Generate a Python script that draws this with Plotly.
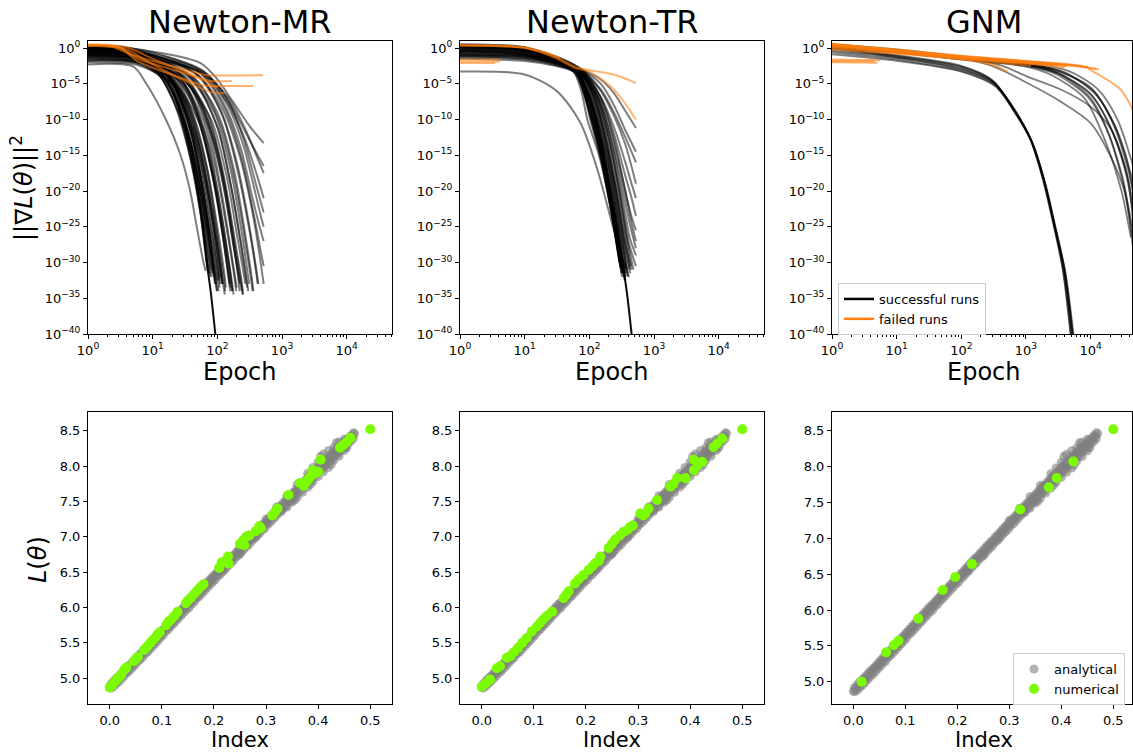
import plotly.graph_objects as go

W, H = 1133, 753
FONT = "DejaVu Sans"
ORANGE = "#ff7f0e"
GREEN = "#7cfc00"

titles = ["Newton-MR", "Newton-TR", "GNM"]

# ---------------------------------------------------------------
# Convergence histories, each run as (epoch, log10 ||grad L||^2)
# ---------------------------------------------------------------
mr_ok = [
    [(1, -2.3), (5, -2.6), (8, -5), (16, -10), (27, -15), (38, -20), (48, -25), (61, -30), (66, -31.2)],
    [(1, -0.5), (5, -1.0), (10, -2.5), (20, -7), (35, -14), (50, -21), (65, -28), (72, -31.5)],
    [(1, 0.0), (5, -0.6), (12, -3), (25, -8), (40, -15), (55, -22), (70, -29), (78, -32)],
    [(1, -1.2), (6, -1.8), (12, -3.5), (25, -9), (40, -16), (55, -23), (68, -30), (74, -31.5)],
    [(1, 0.4), (4, 0.0), (10, -1.8), (20, -5), (40, -12), (60, -20), (80, -28), (90, -32)],
    [(1, -0.8), (6, -1.5), (15, -4), (30, -10), (50, -18), (70, -26), (90, -32), (95, -33)],
    [(1, -1.8), (6, -2.2), (15, -4.5), (30, -10), (50, -17), (70, -24), (90, -30), (100, -32.5)],
    [(1, 0.2), (5, -0.5), (15, -3), (30, -7), (50, -13), (75, -21), (100, -29), (110, -32)],
    [(1, -0.3), (6, -1.0), (15, -3.2), (35, -8), (60, -15), (90, -24), (115, -31), (120, -33)],
    [(1, -1.0), (6, -1.6), (20, -4), (40, -9), (70, -17), (100, -25), (130, -32), (135, -33.5)],
    [(1, 0.1), (5, -0.6), (20, -3.5), (45, -8.5), (80, -17), (120, -26), (150, -32), (155, -33)],
    [(1, -1.5), (6, -2.0), (20, -4.5), (50, -10), (90, -19), (130, -27), (160, -32), (170, -34)],
    [(1, -0.6), (6, -1.2), (25, -4), (60, -10), (100, -18), (150, -27), (190, -33), (195, -34)],
    [(1, 0.3), (4, -0.1), (25, -3.5), (60, -8.5), (110, -17), (160, -25), (210, -32), (220, -34)],
    [(1, -0.2), (6, -0.9), (30, -4), (70, -9), (120, -17), (180, -26), (240, -33), (250, -34.5)],
    [(1, -1.3), (8, -2.0), (30, -4.5), (80, -10), (140, -18), (200, -26), (260, -32), (270, -33)],
    [(1, 0.0), (6, -0.7), (35, -3.8), (90, -9), (160, -17), (240, -26), (300, -32), (310, -33)],
    [(1, -0.9), (8, -1.6), (40, -4), (100, -9), (180, -17), (280, -27), (350, -33), (360, -34)],
    [(1, 0.2), (6, -0.5), (45, -3.5), (110, -8.5), (200, -16), (300, -24), (400, -31), (430, -33)],
    [(1, -0.4), (8, -1.2), (50, -3.8), (120, -8.5), (220, -15), (350, -23), (450, -29), (520, -33)],
    [(1, -0.1), (8, -0.8), (55, -3.5), (130, -8), (230, -14), (350, -21), (450, -25), (520, -27)],
    [(1, 0.1), (8, -0.6), (55, -3.0), (140, -7), (250, -12.5), (380, -18.5), (520, -23)],
    [(1, -0.7), (8, -1.3), (60, -3.5), (150, -7), (260, -11), (400, -15), (520, -17.5)],
    [(1, 0.3), (6, -0.2), (55, -2.1), (100, -4.4), (180, -7.7), (320, -11), (520, -13.3)],
    [(1, -0.3), (8, -1.0), (60, -3.2), (150, -7.5), (280, -12), (420, -15), (520, -16.5)],
    [(1, -1.6), (7, -2.2), (25, -6), (50, -14), (75, -22), (100, -30), (110, -33)],
    [(1, 0.2), (5, -0.5), (18, -4), (40, -12), (60, -20), (80, -27), (100, -33), (105, -34)],
    [(1, -0.4), (6, -1.0), (22, -5), (50, -13), (80, -22), (110, -30), (130, -34.5)],
    [(1, -2.0), (6, -2.4), (20, -5), (40, -11), (60, -17), (80, -23), (100, -28), (120, -33)],
    [(1, 0.1), (5, -0.6), (30, -5), (70, -13), (110, -22), (150, -30), (170, -34)],
    [(1, -0.5), (7, -1.2), (40, -5.5), (90, -13), (140, -21), (190, -29), (220, -33)],
    [(1, 0.0), (6, -0.6), (15, -2.8), (30, -8), (45, -14), (60, -20), (75, -26), (88, -31.5)],
    [(1, -1.0), (5, -1.4), (12, -3.5), (25, -9), (40, -16), (55, -23), (65, -28), (75, -31.5)],
    [(1, 0.4), (5, -0.1), (12, -2.2), (24, -7), (40, -14), (55, -21), (70, -28), (80, -31)],
    [(1, -0.2), (6, -0.8), (35, -5), (80, -12), (130, -20), (180, -28), (230, -33), (240, -34)],
    [(1, -1.4), (6, -1.9), (18, -5), (35, -12), (55, -20), (75, -27), (95, -33), (100, -34)],
    [(1, -0.8), (6, -1.3), (28, -5), (60, -12), (95, -20), (130, -28), (160, -33.5)],
    [(1, 0.3), (5, -0.3), (40, -4.5), (100, -11), (160, -19), (230, -27), (290, -33), (300, -34)],
    [(1, -0.2), (5, -0.7), (12, -2.8), (25, -7.5), (40, -14), (55, -21), (70, -27.5), (82, -32)],
    [(1, 0.3), (5, -0.2), (14, -2.8), (28, -8), (45, -15), (60, -21.5), (78, -28.5), (92, -33)],
    [(1, -0.6), (6, -1.1), (16, -3.5), (32, -9), (50, -16), (70, -24), (88, -30.5), (98, -34)],
    [(1, -1.1), (6, -1.6), (18, -4.2), (36, -10), (55, -17), (78, -25), (100, -31), (108, -33.5)],
    [(1, 0.0), (5, -0.6), (18, -3.5), (38, -9), (60, -16), (85, -24), (110, -31), (118, -33)],
    [(1, -0.3), (6, -0.9), (22, -4), (45, -10), (70, -17), (100, -26), (125, -32), (132, -34)],
    [(1, 0.2), (5, -0.4), (25, -4), (55, -10.5), (90, -19), (125, -27), (150, -32.5), (158, -34)],
    [(1, -0.7), (6, -1.2), (28, -4.5), (60, -11), (100, -20), (140, -28), (170, -33), (178, -34.5)],
    [(1, 0.1), (6, -0.5), (30, -4.2), (70, -11), (115, -20), (160, -28), (195, -33), (200, -33.5)],
    [(1, -0.4), (7, -1.0), (35, -4.5), (80, -11), (130, -19), (190, -28), (235, -33), (245, -34.5)],
    [(1, 0.2), (6, -0.4), (40, -4.2), (95, -10.5), (160, -19), (230, -27.5), (280, -32.5), (290, -33.5)],
    [(1, -0.6), (8, -1.2), (45, -4.3), (110, -10.5), (190, -19), (280, -28), (340, -33), (350, -34)],
    [(1, 0.0), (7, -0.6), (50, -3.8), (120, -9.5), (210, -17.5), (320, -26), (400, -31.5), (420, -33)],
    [(1, -0.2), (8, -0.8), (55, -3.6), (130, -8.5), (230, -15), (360, -23), (470, -28.5), (520, -30.5)],
    [(1, 0.2), (8, -0.4), (55, -3.2), (140, -7.8), (250, -13.5), (380, -20), (470, -23.5), (520, -25)],
    [(1, -0.9), (8, -1.4), (55, -3.4), (140, -7.5), (260, -12.5), (400, -17.5), (520, -21)],
    [(1, -1.7), (6, -2.1), (16, -4.5), (30, -10), (45, -16), (60, -22), (75, -28), (85, -31.5)],
    [(1, -1.2), (6, -1.6), (20, -4.5), (40, -11), (60, -18), (80, -25), (100, -31), (106, -32.5)],
]
mr_best = [(1, 0.3), (4, -0.2), (10, -2), (20, -6), (35, -13), (50, -20), (60, -25), (70, -30.5),
           (80, -34.5), (93, -40), (96, -41.2)]
mr_fail = [
    [(1, 0.45), (2, 0.4), (5, -1.0), (17, -2.4), (54, -3.6), (70, -3.8), (510, -3.8)],
    [(1, 0.4), (3, 0.2), (6, -1.5), (20, -3.0), (60, -4.3), (75, -4.6), (168, -4.6)],
    [(1, 0.35), (3, 0.1), (6, -1.9), (24, -4.0), (60, -5.2), (80, -5.3), (356, -5.3)],
    [(1, 0.3), (4, -0.2), (8, -1.8), (30, -4.5), (70, -6.0), (90, -6.3), (130, -6.3)],
    [(1, 0.45), (4, 0.1), (10, -1.5), (30, -3.2), (60, -4.5), (100, -5.6)],
]

tr_ok = [
    [(1, -3.3), (10, -3.7), (32, -6.1), (73, -10.5), (133, -17), (240, -25.5), (345, -30.1), (365, -30.8)],
    [(1, 0.3), (10, -0.2), (30, -1.7), (57, -3.3), (75, -6), (93, -10), (141, -15), (190, -20), (240, -25), (290, -29.7), (300, -30.5)],
    [(1, -0.5), (10, -0.9), (30, -2), (60, -3.5), (80, -6), (100, -9.5), (150, -15.5), (200, -21), (250, -26), (310, -31)],
    [(1, 0.5), (10, 0.1), (30, -1.5), (60, -3.1), (85, -6.5), (110, -10), (160, -16), (210, -22), (260, -27), (320, -32)],
    [(1, -1.0), (10, -1.3), (30, -2.3), (60, -3.4), (90, -6.5), (120, -10.5), (170, -16), (230, -22.5), (290, -28), (330, -31.5)],
    [(1, -0.2), (10, -0.6), (30, -1.8), (65, -3.3), (95, -6.5), (130, -11), (180, -16.5), (240, -22.5), (300, -28), (350, -32.5)],
    [(1, 0.1), (10, -0.3), (30, -1.6), (65, -3.2), (100, -6.5), (140, -11), (200, -17), (270, -24), (330, -29.5), (360, -31.5)],
    [(1, -1.5), (10, -1.8), (30, -2.5), (65, -3.5), (100, -6.5), (150, -11.5), (220, -18), (300, -25.5), (380, -31)],
    [(1, 0.4), (10, 0.0), (30, -1.4), (70, -3.2), (110, -6.5), (160, -11.5), (230, -18), (310, -25), (390, -31.5)],
    [(1, -0.7), (10, -1.0), (30, -2), (70, -3.4), (115, -6.5), (170, -11.5), (250, -18.5), (330, -25), (420, -31)],
    [(1, 0.2), (10, -0.2), (30, -1.5), (70, -3.1), (120, -6.5), (180, -11.5), (260, -18), (360, -26), (440, -30.5)],
    [(1, -0.3), (10, -0.7), (35, -2), (75, -3.4), (130, -7), (200, -12.5), (290, -19.5), (400, -27), (525, -30.5)],
    [(1, 0.3), (10, -0.1), (35, -1.6), (75, -3.2), (130, -6.5), (200, -11.5), (300, -18), (420, -24.5), (525, -28)],
    [(1, -1.2), (10, -1.5), (35, -2.3), (75, -3.5), (140, -7), (220, -12), (320, -18), (430, -23), (525, -25.5)],
    [(1, 0.0), (10, -0.4), (35, -1.7), (80, -3.3), (150, -7), (240, -12), (350, -17.5), (450, -21), (525, -23.5)],
    [(1, -0.4), (10, -0.8), (35, -2), (80, -3.4), (150, -6.8), (250, -11.5), (360, -16), (450, -19), (525, -21)],
    [(1, 0.4), (10, 0.0), (35, -1.4), (80, -3.2), (150, -6), (240, -9.5), (360, -13.5), (525, -19)],
    [(1, -0.8), (10, -1.1), (35, -2.1), (80, -3.4), (150, -5.8), (240, -9), (360, -12.5), (525, -16)],
    [(1, 0.1), (10, -0.3), (35, -1.5), (85, -3.3), (150, -5), (240, -8), (360, -11.5), (525, -14.5)],
    [(1, -0.1), (10, -0.5), (35, -1.7), (90, -3.3), (150, -4.4), (240, -6.3), (360, -8.8), (525, -11.2)],
    [(1, 0.5), (10, 0.1), (30, -1.3), (60, -3), (80, -5.5), (100, -9), (140, -14), (180, -19), (230, -24), (280, -29), (295, -30)],
    [(1, -0.6), (10, -1.0), (30, -2), (60, -3.3), (90, -7.5), (120, -11), (170, -17), (220, -22.5), (270, -27.5), (320, -31.5)],
    [(1, 0.2), (10, -0.2), (30, -1.5), (60, -3.1), (95, -7.5), (130, -12), (180, -17.5), (240, -23.5), (300, -29), (340, -32)],
    [(1, -1.3), (10, -1.6), (30, -2.4), (65, -3.4), (105, -8), (145, -13), (200, -19), (260, -25), (320, -30), (360, -32.5)],
    [(1, 0.3), (10, -0.1), (30, -1.5), (65, -3.2), (110, -8), (160, -14), (220, -20.5), (290, -27), (350, -31.5)],
    [(1, -0.9), (10, -1.2), (35, -2.2), (75, -3.5), (120, -7), (180, -13), (260, -20), (350, -27), (450, -31)],
    [(1, 0.1), (10, -0.3), (30, -1.6), (60, -3.2), (85, -6.5), (110, -10.5), (155, -15.5), (205, -21), (255, -26), (305, -30.5)],
    [(1, -0.4), (10, -0.8), (30, -1.9), (62, -3.3), (92, -7), (120, -11), (165, -16.5), (215, -22), (265, -27), (315, -31.5)],
    [(1, 0.3), (10, -0.1), (30, -1.5), (63, -3.2), (95, -7), (125, -11), (175, -16.5), (230, -22.5), (285, -28), (330, -31)],
    [(1, -0.9), (10, -1.2), (30, -2.2), (65, -3.4), (100, -7), (135, -11.5), (185, -17), (245, -23), (300, -28), (345, -31.5)],
    [(1, 0.4), (10, 0.0), (30, -1.4), (66, -3.1), (105, -7), (145, -11.5), (200, -17.5), (265, -24), (325, -29.5), (370, -32)],
    [(1, -0.2), (10, -0.6), (32, -1.8), (68, -3.3), (110, -7), (155, -12), (215, -18), (285, -25), (350, -30), (400, -32)],
    [(1, 0.2), (10, -0.2), (32, -1.5), (70, -3.2), (115, -7), (165, -12), (230, -18.5), (305, -25.5), (380, -31), (410, -32)],
    [(1, -0.5), (10, -0.9), (33, -2), (72, -3.4), (125, -7.3), (185, -13), (260, -20), (350, -27.5), (430, -31.5)],
    [(1, 0.0), (10, -0.4), (34, -1.7), (75, -3.3), (135, -7.2), (205, -13), (290, -20), (390, -27), (480, -31)],
    [(1, -1.1), (10, -1.4), (35, -2.3), (78, -3.5), (145, -7.5), (225, -13.5), (320, -20.5), (420, -26.5), (525, -29)],
    [(1, 0.3), (10, -0.1), (36, -1.5), (80, -3.2), (155, -7.3), (245, -13), (350, -19.5), (450, -24.5), (525, -27)],
]
tr_best = [(1, 0.2), (10, -0.3), (30, -1.6), (60, -3.2), (100, -7), (160, -14), (220, -21), (280, -27),
           (325, -30), (390, -35), (450, -40), (470, -41.5)]
tr_fail = [
    [(1, 0.45), (10, 0.1), (30, -1.2), (60, -2.6), (100, -3.1), (240, -3.7), (525, -4.9)],
    [(1, 0.3), (10, 0.0), (30, -1.4), (60, -2.8), (100, -3.3), (240, -5.8), (525, -10)],
    [(1, -1.9), (4.2, -1.9)],
    [(1, -1.6), (4, -1.65)],
    [(1, -2.1), (3.5, -2.1)],
    [(1, 0.4), (10, 0.05), (20, -0.6), (35, -1.4)],
]

gnm_ok = [
    [(1, 0.2), (10, -1.1), (100, -2.6), (300, -4.5), (600, -8), (1150, -12.5), (1800, -18), (2600, -24), (3750, -31), (5000, -40.5)],
    [(1, -0.2), (10, -1.3), (100, -2.9), (320, -4.9), (650, -8.6), (1200, -12.9), (1900, -18.5), (2700, -24.5), (3900, -31), (5250, -40.5)],
    [(1, -0.6), (10, -1.6), (100, -3.2), (330, -5.2), (680, -9), (1250, -13.2), (1950, -18.8), (2800, -24.8), (4000, -31.2), (5400, -40.5)],
    [(1, 0.0), (10, -1.2), (100, -2.7), (310, -4.7), (620, -8.3), (1180, -12.8), (1850, -18.2), (2650, -24.2), (3820, -31), (5150, -40.5)],
    [(1, -0.9), (10, -1.8), (100, -3.3), (340, -5.4), (700, -9.3), (1300, -13.6), (2000, -19), (2850, -25), (4100, -31.5), (5500, -40.5)],
    [(1, 0.1), (10, -1.0), (100, -2.5), (290, -4.4), (580, -7.8), (1100, -12.2), (1750, -17.8), (2550, -24), (3700, -31), (4950, -40.5)],
    [(1, -0.4), (10, -1.4), (100, -3.0), (325, -5.0), (660, -8.8), (1220, -13), (1920, -18.6), (2750, -24.6), (3950, -31.1), (5300, -40.5)],
    [(1, 0.3), (10, -0.5), (100, -1.5), (320, -2.6), (1050, -4.9), (3450, -7.5), (10000, -10.5), (20500, -15.2), (33000, -19.9), (42000, -25.5), (44500, -27.6)],
    [(1, 0.4), (10, -0.4), (100, -1.4), (400, -2.4), (1050, -4), (3460, -5.8), (10000, -8.2), (20800, -11.4), (37000, -18), (44500, -23.6)],
    [(1, 0.5), (10, -0.3), (100, -1.3), (1000, -2.2), (3000, -3.2), (10000, -5.5), (20000, -9.5), (35000, -15), (47000, -21)],
    [(1, 0.2), (10, -0.5), (100, -1.5), (1000, -2.4), (3000, -3.5), (10000, -6.5), (20000, -11), (35000, -17.5), (47000, -24)],
    [(1, 0.4), (10, -0.3), (100, -1.3), (1000, -2.2), (3500, -3.3), (11000, -6), (22000, -10.5), (38000, -17), (50000, -22)],
    [(1, 0.1), (10, -0.6), (100, -1.6), (1000, -2.5), (2800, -3.6), (9000, -6.8), (18000, -11.5), (32000, -18.5), (43000, -25.5), (45000, -26.5)],
    [(1, 0.3), (10, -0.4), (100, -1.4), (1000, -2.3), (4000, -3.4), (12000, -6.5), (24000, -11), (40000, -17), (50000, -20)],
    [(1, 0.0), (10, -0.6), (100, -1.6), (1000, -2.6), (2500, -3.8), (8000, -7), (16000, -12.5), (30000, -20), (40000, -25.5), (42000, -26.5)],
    [(1, 0.5), (10, -0.2), (100, -1.2), (1000, -2.1), (4500, -3.2), (13000, -5.8), (26000, -10), (42000, -15.5), (50000, -18)],
    [(1, 0.2), (10, -0.5), (100, -1.5), (1000, -2.4), (3200, -3.6), (10000, -7), (19000, -12), (33000, -19.5), (44000, -25)],
    [(1, 0.3), (10, -0.4), (100, -1.4), (1000, -2.3), (3000, -3.4), (9500, -6.2), (19000, -10.5), (34000, -16.5), (47000, -22.5)],
]
gnm_fail = [
    [(1, 0.6), (10, -0.3), (100, -1.2), (1000, -1.9), (5000, -2.4), (13500, -3.0)],
    [(1, 0.4), (10, -0.4), (100, -1.3), (1000, -2.0), (4400, -2.5)],
    [(1, 0.2), (10, -0.5), (100, -1.4), (1000, -2.1), (3000, -2.5)],
    [(1, 0.5), (10, -0.2), (100, -1.1), (1000, -1.8), (8000, -2.6), (11000, -3.3), (29000, -5.8), (47000, -9.1), (52000, -11)],
    [(1, 0.0), (10, -0.7), (100, -1.6), (300, -2.3), (520, -3.3)],
    [(1, -1.6), (5.6, -1.7)],
    [(1, -2.0), (5, -2.05)],
    [(1, 0.3), (10, -0.3), (100, -1.2), (1000, -1.9), (2500, -2.2)],
    [(1, -0.2), (10, -0.8), (100, -1.5), (1500, -2.3), (4000, -2.7)],
    [(1, 0.55), (10, -0.25), (100, -1.15), (1000, -1.85), (6000, -2.5), (12000, -2.9)],
    [(1, 0.45), (10, -0.35), (100, -1.25), (1000, -1.95), (3500, -2.35)],
    [(1, 0.35), (10, -0.45), (100, -1.35), (800, -2.0), (2000, -2.3)],
    [(1, 0.1), (10, -0.6), (100, -1.5), (600, -2.2), (1200, -2.5)],
    [(1, 0.5), (10, -0.3), (100, -1.2), (1000, -1.95), (7000, -2.6), (9000, -2.7)],
    [(1, -1.8), (4.5, -1.85)],
]

# ---------------------------------------------------------------
# Final loss against index: analytical sweep and numerical solutions
# ---------------------------------------------------------------
analytical_idx = [
    0.000, 0.005, 0.010, 0.015, 0.020, 0.025, 0.030, 0.035, 0.040, 0.045,
    0.050, 0.055, 0.060, 0.065, 0.070, 0.075, 0.080, 0.085, 0.090, 0.095,
    0.100, 0.105, 0.110, 0.115, 0.120, 0.125, 0.130, 0.135, 0.140, 0.145,
    0.150, 0.155, 0.160, 0.165, 0.170, 0.175, 0.180, 0.185, 0.190, 0.195,
    0.200, 0.205, 0.210, 0.215, 0.220, 0.225, 0.230, 0.235, 0.240, 0.245,
    0.250, 0.255, 0.260, 0.265, 0.270, 0.275, 0.280, 0.285, 0.290, 0.295,
    0.300, 0.305, 0.310, 0.315, 0.320, 0.325, 0.330, 0.335, 0.340, 0.345,
    0.350, 0.355, 0.360, 0.365, 0.370, 0.375, 0.380, 0.385, 0.390, 0.395,
    0.400, 0.405, 0.410, 0.415, 0.420, 0.425, 0.430, 0.435, 0.440, 0.445,
    0.450, 0.455, 0.460, 0.465, 0.470,
    0.300, 0.320, 0.340, 0.360, 0.380, 0.390, 0.400, 0.405, 0.410, 0.420,
    0.430, 0.435, 0.440, 0.450,
    0.350, 0.355, 0.360, 0.370, 0.380, 0.385, 0.390, 0.400, 0.410, 0.420,
    0.425, 0.430, 0.440, 0.450, 0.455, 0.220, 0.250, 0.280, 0.330, 0.340,
]
analytical_L = [
    4.87, 4.91, 4.95, 4.98, 5.03, 5.06, 5.10, 5.13, 5.18, 5.21,
    5.25, 5.29, 5.33, 5.36, 5.41, 5.44, 5.48, 5.52, 5.56, 5.60,
    5.64, 5.69, 5.72, 5.76, 5.80, 5.84, 5.88, 5.92, 5.96, 6.00,
    6.04, 6.07, 6.12, 6.15, 6.20, 6.23, 6.27, 6.31, 6.35, 6.39,
    6.43, 6.46, 6.51, 6.54, 6.58, 6.62, 6.66, 6.70, 6.73, 6.78,
    6.81, 6.85, 6.89, 6.93, 6.96, 7.01, 7.04, 7.08, 7.12, 7.16,
    7.19, 7.24, 7.27, 7.31, 7.35, 7.39, 7.43, 7.47, 7.50, 7.55,
    7.58, 7.62, 7.66, 7.70, 7.73, 7.77, 7.81, 7.85, 7.88, 7.92,
    7.96, 8.00, 8.03, 8.07, 8.10, 8.14, 8.18, 8.21, 8.25, 8.28,
    8.31, 8.35, 8.38, 8.42, 8.46,
    7.25, 7.42, 7.58, 7.74, 7.90, 7.98, 8.06, 8.14, 8.17, 8.22,
    8.26, 8.33, 8.34, 8.38,
    7.49, 7.52, 7.56, 7.63, 7.70, 7.74, 7.78, 7.85, 7.92, 7.98,
    8.02, 8.08, 8.14, 8.22, 8.26, 6.54, 6.76, 7.00, 7.36, 7.42,
]
# second pass of the sweep, offset half a step
analytical_idx_b = [
    0.0025, 0.0075, 0.0125, 0.0175, 0.0225, 0.0275, 0.0325, 0.0375, 0.0425, 0.0475,
    0.0525, 0.0575, 0.0625, 0.0675, 0.0725, 0.0775, 0.0825, 0.0875, 0.0925, 0.0975,
    0.1025, 0.1075, 0.1125, 0.1175, 0.1225, 0.1275, 0.1325, 0.1375, 0.1425, 0.1475,
    0.1525, 0.1575, 0.1625, 0.1675, 0.1725, 0.1775, 0.1825, 0.1875, 0.1925, 0.1975,
    0.2025, 0.2075, 0.2125, 0.2175, 0.2225, 0.2275, 0.2325, 0.2375, 0.2425, 0.2475,
    0.2525, 0.2575, 0.2625, 0.2675, 0.2725, 0.2775, 0.2825, 0.2875, 0.2925, 0.2975,
    0.3025, 0.3075, 0.3125, 0.3175, 0.3225, 0.3275, 0.3325, 0.3375, 0.3425, 0.3475,
    0.3525, 0.3575, 0.3625, 0.3675, 0.3725, 0.3775, 0.3825, 0.3875, 0.3925, 0.3975,
    0.4025, 0.4075, 0.4125, 0.4175, 0.4225, 0.4275, 0.4325, 0.4375, 0.4425, 0.4475,
    0.4525, 0.4575, 0.4625, 0.4675,
]
analytical_L_low = [
    4.86, 4.88, 4.92, 4.95, 4.99, 5.03, 5.07, 5.10, 5.14, 5.18,
    5.22, 5.26, 5.29, 5.34, 5.37, 5.41, 5.45, 5.49, 5.53, 5.57,
    5.61, 5.66, 5.69, 5.73, 5.77, 5.81, 5.85, 5.89, 5.93, 5.97,
    6.00, 6.05, 6.08, 6.13, 6.16, 6.20, 6.24, 6.28, 6.32, 6.36,
    6.39, 6.44, 6.47, 6.51, 6.55, 6.59, 6.63, 6.66, 6.71, 6.74,
    6.78, 6.82, 6.86, 6.89, 6.94, 6.97, 7.01, 7.05, 7.09, 7.12,
    7.17, 7.20, 7.24, 7.28, 7.32, 7.36, 7.40, 7.43, 7.48, 7.51,
    7.55, 7.59, 7.63, 7.66, 7.70, 7.74, 7.78, 7.81, 7.85, 7.89,
    7.93, 7.96, 8.00, 8.03, 8.07, 8.11, 8.14, 8.18, 8.21, 8.25,
    8.28, 8.32, 8.35, 8.39,
]
analytical_L_high = [
    4.92, 4.96, 5.00, 5.03, 5.07, 5.11, 5.15, 5.18, 5.22, 5.26,
    5.30, 5.34, 5.37, 5.41, 5.45, 5.49, 5.53, 5.57, 5.61, 5.65,
    5.69, 5.73, 5.77, 5.81, 5.85, 5.89, 5.93, 5.97, 6.01, 6.05,
    6.08, 6.12, 6.16, 6.20, 6.24, 6.28, 6.32, 6.36, 6.40, 6.44,
    6.47, 6.51, 6.55, 6.59, 6.63, 6.67, 6.71, 6.74, 6.78, 6.82,
    6.86, 6.90, 6.94, 6.97, 7.01, 7.05, 7.09, 7.13, 7.17, 7.20,
    7.24, 7.28, 7.32, 7.36, 7.40, 7.44, 7.48, 7.51, 7.55, 7.59,
    7.63, 7.67, 7.71, 7.74, 7.78, 7.82, 7.86, 7.89, 7.93, 7.97,
    8.01, 8.04, 8.08, 8.11, 8.15, 8.19, 8.22, 8.26, 8.29, 8.32,
    8.36, 8.39, 8.43, 8.47,
]

mr_num_idx = [0.000, 0.004, 0.008, 0.012, 0.017, 0.022, 0.028, 0.032, 0.046, 0.050,
              0.054, 0.066, 0.072, 0.078, 0.083, 0.088, 0.092, 0.096, 0.108, 0.113,
              0.118, 0.124, 0.130, 0.146, 0.150, 0.156, 0.162, 0.168, 0.174, 0.180,
              0.210, 0.215, 0.222, 0.227, 0.228, 0.250, 0.256, 0.262, 0.268, 0.258,
              0.280, 0.287, 0.290, 0.312, 0.318, 0.322, 0.343, 0.365, 0.372, 0.378,
              0.382, 0.386, 0.390, 0.395, 0.400, 0.405, 0.442, 0.448, 0.455, 0.462, 0.500]
mr_num_L = [4.87, 4.90, 4.94, 4.97, 5.01, 5.05, 5.12, 5.15, 5.24, 5.27,
            5.30, 5.40, 5.45, 5.50, 5.54, 5.58, 5.62, 5.65, 5.75, 5.80,
            5.83, 5.88, 5.94, 6.06, 6.10, 6.14, 6.19, 6.24, 6.29, 6.33,
            6.56, 6.64, 6.66, 6.72, 6.62, 6.90, 6.95, 7.00, 7.02, 6.88,
            7.08, 7.15, 7.12, 7.30, 7.36, 7.40, 7.59, 7.76, 7.72, 7.78,
            7.82, 7.86, 7.94, 7.90, 7.92, 8.09, 8.26, 8.30, 8.34, 8.40, 8.52]

tr_num_idx = [0.000, 0.008, 0.016, 0.029, 0.035, 0.048, 0.055, 0.062, 0.070, 0.078,
              0.0865, 0.096, 0.106, 0.112, 0.118, 0.125, 0.135, 0.157, 0.162, 0.167,
              0.179, 0.186, 0.195, 0.205, 0.212, 0.218, 0.225, 0.2275, 0.2435, 0.250,
              0.256, 0.265, 0.272, 0.280, 0.285, 0.290, 0.3045, 0.310, 0.314, 0.320,
              0.3365, 0.362, 0.368, 0.375, 0.391, 0.407, 0.407, 0.415, 0.423, 0.445,
              0.452, 0.4615, 0.500]
tr_num_L = [4.88, 4.93, 4.98, 5.14, 5.17, 5.29, 5.31, 5.37, 5.43, 5.50,
            5.57, 5.66, 5.73, 5.78, 5.83, 5.88, 5.94, 6.13, 6.18, 6.23,
            6.34, 6.40, 6.46, 6.53, 6.58, 6.63, 6.66, 6.72, 6.84, 6.90,
            6.96, 7.02, 7.07, 7.10, 7.14, 7.16, 7.33, 7.30, 7.33, 7.40,
            7.52, 7.71, 7.75, 7.83, 7.83, 7.94, 8.09, 8.02, 8.06, 8.27,
            8.32, 8.39, 8.52]

gnm_num_idx = [0.016, 0.063, 0.078, 0.087, 0.125, 0.172, 0.196, 0.228, 0.321, 0.376, 0.391, 0.423, 0.500]
gnm_num_L = [5.00, 5.41, 5.51, 5.57, 5.88, 6.28, 6.46, 6.64, 7.40, 7.71, 7.84, 8.07, 8.52]

# tick labels
grad_tick_exp = [0, -5, -10, -15, -20, -25, -30, -35, -40]
epoch_tick_exp = [0, 1, 2, 3, 4]
loss_ticks = [5.0, 5.5, 6.0, 6.5, 7.0, 7.5, 8.0, 8.5]
index_ticks = [0.0, 0.1, 0.2, 0.3, 0.4, 0.5]


def sup(e):
    return "10<sup>" + str(e).replace("-", "\u2212") + "</sup>"


# ---------------------------------------------------------------
# Layout geometry (pixels)
# ---------------------------------------------------------------
col_px = [(88, 392), (460, 764), (832, 1132)]
row_px = [(41, 334), (412, 704)]
epoch_range = [[0, 4.70], [0, 4.70], [0, 4.64]]
index_range = [[-0.0417, 0.5417], [-0.0417, 0.5417], [-0.041, 0.536]]
loss_range = [[4.635, 8.765], [4.635, 8.765], [4.69, 8.76]]

fig = go.Figure()


def ax(k):
    return ("x" if k == 1 else f"x{k}"), ("y" if k == 1 else f"y{k}")


def add_runs(runs, k, color, opacity, width=2.0):
    xa, ya = ax(k)
    for run in runs:
        fig.add_trace(go.Scatter(
            x=[p[0] for p in run], y=[10 ** p[1] for p in run], mode="lines",
            line=dict(color=color, width=width, shape="spline", smoothing=0.8),
            opacity=opacity, showlegend=False, hoverinfo="skip", xaxis=xa, yaxis=ya))


add_runs(mr_ok, 1, "black", 0.5)
add_runs([mr_best], 1, "black", 0.95)
add_runs(mr_fail, 1, ORANGE, 0.6)
add_runs(tr_ok, 2, "black", 0.5)
add_runs([tr_best], 2, "black", 0.95)
add_runs(tr_fail, 2, ORANGE, 0.55)
add_runs(gnm_ok, 3, "black", 0.5, width=1.8)
add_runs(gnm_fail, 3, ORANGE, 0.6)

# legend entries for the run outcome
fig.add_trace(go.Scatter(x=[None], y=[None], mode="lines", name="successful runs",
                         line=dict(color="black", width=2.5), legend="legend", xaxis="x3", yaxis="y3"))
fig.add_trace(go.Scatter(x=[None], y=[None], mode="lines", name="failed runs",
                         line=dict(color=ORANGE, width=2.5), legend="legend", xaxis="x3", yaxis="y3"))

numerical = [(mr_num_idx, mr_num_L), (tr_num_idx, tr_num_L), (gnm_num_idx, gnm_num_L)]
grey_marker = dict(color="#808080", size=9, opacity=0.6, line=dict(width=0))
for c in range(3):
    xa, ya = ax(4 + c)
    for yy in (analytical_L_low, analytical_L_high):
        fig.add_trace(go.Scatter(
            x=analytical_idx_b, y=yy, mode="markers", marker=grey_marker,
            showlegend=False, hoverinfo="skip", xaxis=xa, yaxis=ya))
    fig.add_trace(go.Scatter(
        x=analytical_idx, y=analytical_L, mode="markers", name="analytical",
        marker=grey_marker, showlegend=(c == 2), legend="legend2", hoverinfo="skip",
        xaxis=xa, yaxis=ya))
    fig.add_trace(go.Scatter(
        x=numerical[c][0], y=numerical[c][1], mode="markers", name="numerical",
        marker=dict(color=GREEN, size=10, line=dict(width=0)),
        showlegend=(c == 2), legend="legend2", hoverinfo="skip", xaxis=xa, yaxis=ya))

tickfont = dict(family=FONT, size=13, color="black")
common = dict(showline=True, mirror=True, linecolor="black", linewidth=1, ticks="outside",
              ticklen=4, tickwidth=1, tickcolor="black", showgrid=False, zeroline=False,
              tickfont=tickfont, automargin=False)
minor_epochs = [m * 10 ** d for d in range(5) for m in range(2, 10)]

layout = {}
for r in range(2):
    for c in range(3):
        k = r * 3 + c + 1
        xname = "xaxis" if k == 1 else f"xaxis{k}"
        yname = "yaxis" if k == 1 else f"yaxis{k}"
        xa, ya = ax(k)
        xd = [col_px[c][0] / W, col_px[c][1] / W]
        yd = [1 - row_px[r][1] / H, 1 - row_px[r][0] / H]
        if r == 0:
            layout[xname] = dict(common, domain=xd, anchor=ya, type="log", range=epoch_range[c],
                                 tickmode="array", tickvals=[10 ** e for e in epoch_tick_exp],
                                 ticktext=[sup(e) for e in epoch_tick_exp],
                                 minor=dict(tickmode="array", tickvals=minor_epochs, ticks="outside",
                                            ticklen=2, tickwidth=0.8, tickcolor="black", showgrid=False))
            layout[yname] = dict(common, domain=yd, anchor=xa, type="log", range=[-40, 0.98],
                                 tickmode="array", tickvals=[10 ** e for e in grad_tick_exp],
                                 ticktext=[sup(e) for e in grad_tick_exp])
        else:
            layout[xname] = dict(common, domain=xd, anchor=ya, range=index_range[c],
                                 tickmode="array", tickvals=index_ticks,
                                 ticktext=[f"{v:.1f}" for v in index_ticks])
            layout[yname] = dict(common, domain=yd, anchor=xa, range=loss_range[c],
                                 tickmode="array", tickvals=loss_ticks,
                                 ticktext=[f"{v:.1f}" for v in loss_ticks])

annotations = []
for c in range(3):
    cx = (col_px[c][0] + col_px[c][1]) / 2 / W if c < 2 else (832 + 304 / 2) / W
    annotations.append(dict(text=titles[c], x=cx, y=1 - 22 / H, xref="paper", yref="paper",
                            showarrow=False, xanchor="center", yanchor="middle",
                            font=dict(family=FONT, size=32, color="black")))
    annotations.append(dict(text="Epoch", x=cx, y=1 - 372 / H, xref="paper", yref="paper",
                            showarrow=False, xanchor="center", yanchor="middle",
                            font=dict(family=FONT, size=24, color="black")))
    annotations.append(dict(text="Index", x=cx, y=1 - 740 / H, xref="paper", yref="paper",
                            showarrow=False, xanchor="center", yanchor="middle",
                            font=dict(family=FONT, size=21, color="black")))
annotations.append(dict(text="||\u2207<i>L</i>(<i>\u03b8</i>)||<sup>2</sup>", x=22 / W, y=1 - 188 / H,
                        xref="paper", yref="paper", showarrow=False, textangle=-90,
                        xanchor="center", yanchor="middle",
                        font=dict(family=FONT, size=24, color="black")))
annotations.append(dict(text="<i>L</i>(<i>\u03b8</i>)", x=38 / W, y=1 - 560 / H,
                        xref="paper", yref="paper", showarrow=False, textangle=-90,
                        xanchor="center", yanchor="middle",
                        font=dict(family=FONT, size=24, color="black")))

fig.update_layout(
    width=W, height=H, margin=dict(l=0, r=0, t=0, b=0, autoexpand=False),
    paper_bgcolor="white", plot_bgcolor="white",
    font=dict(family=FONT, size=13, color="black"),
    annotations=annotations,
    legend=dict(x=838 / W, y=1 - 283 / H, xanchor="left", yanchor="top",
                bgcolor="rgba(255,255,255,0.85)", bordercolor="#cccccc", borderwidth=1,
                font=dict(family=FONT, size=13, color="black"), tracegroupgap=0,
                itemwidth=30),
    legend2=dict(x=1013 / W, y=1 - 653 / H, xanchor="left", yanchor="top",
                 bgcolor="rgba(255,255,255,0.85)", bordercolor="#cccccc", borderwidth=1,
                 font=dict(family=FONT, size=13, color="black"), tracegroupgap=0),
    **layout,
)

fig.write_html("out.html")
